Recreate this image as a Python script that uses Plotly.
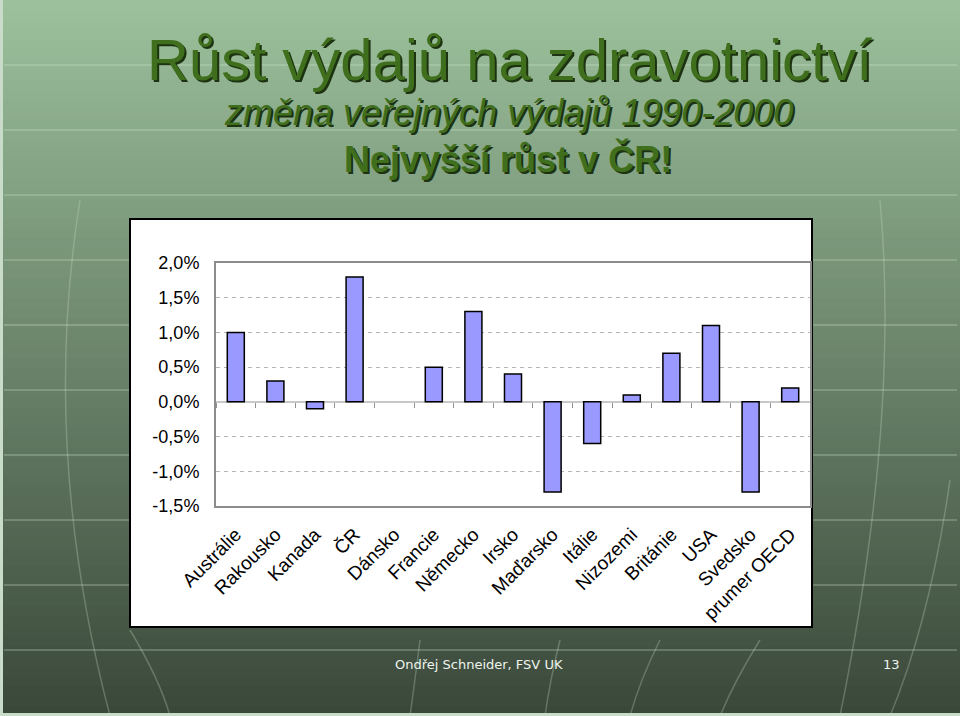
import plotly.graph_objects as go

# ---------------- data ----------------
categories = ["Austrálie", "Rakousko", "Kanada", "ČR", "Dánsko", "Francie",
              "Německo", "Irsko", "Maďarsko", "Itálie", "Nizozemi", "Británie",
              "USA", "Svedsko", "prumer OECD"]
values = [1.0, 0.3, -0.1, 1.8, None, 0.5, 1.3, 0.4, -1.3, -0.6, 0.1, 0.7, 1.1, -1.3, 0.2]
y_tickvals = [2.0, 1.5, 1.0, 0.5, 0.0, -0.5, -1.0, -1.5]
y_ticktext = ["2,0%", "1,5%", "1,0%", "0,5%", "0,0%", "-0,5%", "-1,0%", "-1,5%"]

title_main = "Růst výdajů na zdravotnictví"
title_sub = "změna veřejných výdajů 1990-2000"
title_note = "Nejvyšší růst v ČR!"
footer_left = "Ondřej Schneider, FSV UK"
footer_right = "13"

# ---------------- layout geometry ----------------
W, H = 960, 716
L, R, T, B = 216, 810, 263, 506   # plot area in pixels


def px(x):
    return (x - L) / (R - L)


def py(y):
    return (B - y) / (B - T)


shapes = []
# background gradient
top_c = (156, 192, 156)
bot_c = (58, 72, 58)
n = 72
for i in range(n):
    t = i / (n - 1)
    c = tuple(int(round(top_c[k] + (bot_c[k] - top_c[k]) * t)) for k in range(3))
    y0 = i * H / n
    y1 = (i + 1) * H / n + 1
    shapes.append(dict(type="rect", xref="paper", yref="paper", layer="below",
                       x0=px(0), x1=px(W), y0=py(y0), y1=py(y1),
                       fillcolor="rgb(%d,%d,%d)" % c, line=dict(width=0)))
# faint decorative horizontal lines
for yy in range(65, 716, 65):
    shapes.append(dict(type="line", xref="paper", yref="paper", layer="below",
                       x0=px(4), x1=px(957), y0=py(yy), y1=py(yy),
                       line=dict(color="rgba(205,228,205,0.35)", width=1.5)))


def conv_path(p):
    out = []
    for tok in p.split():
        if tok in ("M", "Q", "L"):
            out.append(tok)
        else:
            a, b = tok.split(",")
            out.append("%f,%f" % (px(float(a)), py(float(b))))
    return " ".join(out)


# faint decorative curves
curves = [
    "M 80,200 Q 40,450 110,716",
    "M 130,630 Q 160,680 170,716",
    "M 880,200 Q 900,420 840,716",
    "M 950,480 Q 930,620 890,716",
    "M 420,640 Q 415,680 410,716",
    "M 560,640 Q 550,680 545,716",
    "M 660,640 Q 640,680 630,716",
    "M 760,640 Q 735,680 720,716",
]
for c in curves:
    shapes.append(dict(type="path", xref="paper", yref="paper", layer="below",
                       path=conv_path(c),
                       line=dict(color="rgba(205,228,205,0.28)", width=1.5)))
# borders of the slide
shapes.append(dict(type="rect", xref="paper", yref="paper", layer="below",
                   x0=px(0), x1=px(3), y0=py(0), y1=py(H),
                   fillcolor="#c9dcc9", line=dict(width=0)))
shapes.append(dict(type="rect", xref="paper", yref="paper", layer="below",
                   x0=px(0), x1=px(W), y0=py(713), y1=py(H),
                   fillcolor="#c9dcc9", line=dict(width=0)))
# white chart box
shapes.append(dict(type="rect", xref="paper", yref="paper", layer="below",
                   x0=px(130), x1=px(812), y0=py(627), y1=py(219),
                   fillcolor="white", line=dict(color="black", width=2)))

annotations = []


def shadow_text(text, x, y, size, weight="normal", style="normal"):
    annotations.append(dict(text=text, xref="paper", yref="paper",
                            x=px(x), y=py(y),
                            showarrow=False, xanchor="center", yanchor="middle",
                            font=dict(family="Arial, Liberation Sans", size=size,
                                      color="#3f6f1d", weight=weight, style=style,
                                      shadow="2px 2px 0px #1c3210")))


shadow_text(title_main, 509, 59, 58)
shadow_text(title_sub, 508, 113, 36, style="italic")
shadow_text(title_note, 508, 159, 36, weight="bold")

annotations.append(dict(text=footer_left, xref="paper", yref="paper", x=px(393), y=py(664),
                        xanchor="left", yanchor="middle", showarrow=False,
                        font=dict(family="DejaVu Sans", size=13, color="#eef4ee")))
annotations.append(dict(text=footer_right, xref="paper", yref="paper", x=px(891), y=py(664),
                        xanchor="center", yanchor="middle", showarrow=False,
                        font=dict(family="DejaVu Sans", size=13, color="#eef4ee")))

fig = go.Figure()
fig.add_trace(go.Bar(x=categories, y=values, width=0.43,
                     marker=dict(color="#9999ff", line=dict(color="black", width=1.5)),
                     showlegend=False, hoverinfo="x+y"))
fig.add_trace(go.Bar(x=categories, y=[None] * len(categories), xaxis="x2",
                     showlegend=False, hoverinfo="skip"))

fig.update_layout(
    width=W, height=H,
    margin=dict(l=L, r=W - R, t=T, b=H - B, pad=0),
    paper_bgcolor="#3a483a",
    plot_bgcolor="rgba(0,0,0,0)",
    font=dict(family="Arial, Liberation Sans", color="black"),
    shapes=shapes,
    annotations=annotations,
    xaxis=dict(categoryorder="array", categoryarray=categories,
               range=[-0.5, len(categories) - 0.5],
               showline=True, linecolor="#8c8c8c", linewidth=2, mirror=True,
               ticks="", showgrid=False, tickangle=-45,
               tickfont=dict(size=19, family="Arial, Liberation Sans", color="black"),
               ticklabelstandoff=8),
    xaxis2=dict(overlaying="x", matches="x", anchor="free", position=1.5 / 3.5,
                categoryorder="array", categoryarray=categories,
                showticklabels=False, showline=False, showgrid=False,
                ticks="outside", ticklen=5, tickwidth=1, tickcolor="#909090",
                tickson="boundaries"),
    yaxis=dict(range=[-1.5, 2.0], tickvals=y_tickvals, ticktext=y_ticktext,
               showline=True, linecolor="#8c8c8c", linewidth=2, mirror=True,
               showgrid=True, gridcolor="#b4b4b4", griddash="4px,4px", gridwidth=1,
               zeroline=True, zerolinecolor="#c8c8c8", zerolinewidth=1.5,
               ticks="", ticklabelstandoff=11,
               tickfont=dict(size=18, family="Arial, Liberation Sans", color="black")),
)

fig.write_html("out.html")
